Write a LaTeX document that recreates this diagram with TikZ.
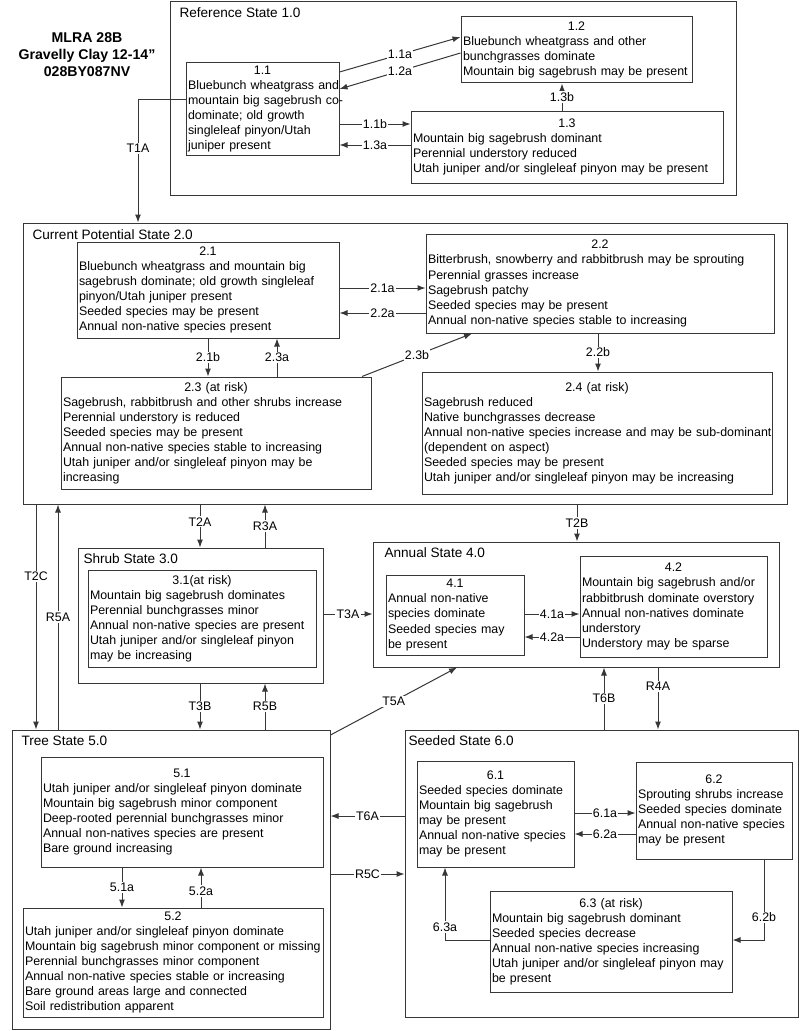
\documentclass[tikz,border=0pt]{standalone}
\usepackage{fontspec}
\setmainfont{Liberation Sans}
\usetikzlibrary{arrows.meta}
\definecolor{boxline}{RGB}{55,55,55}
\newcommand{\subnum}[1]{\rightskip=0pt plus 1fil minus 12pt\makebox[\linewidth]{#1}\\}
\tikzset{every picture/.style={line width=0.75pt}}
\tikzset{
  statebox/.style={draw=boxline, inner sep=0pt},
  subbox/.style={draw=boxline, align=left, inner xsep=1.5pt, inner ysep=0pt, font=\fontsize{9.3}{11.3}\selectfont},
  sttitle/.style={anchor=west, inner sep=0pt, font=\fontsize{10.2}{12}\selectfont},
  lab/.style={fill=white, inner sep=1pt, font=\fontsize{9.3}{11}\selectfont},
  arr/.style={draw=boxline, -{Latex[length=6pt,width=4.5pt]}},
}
\begin{document}
\begin{tikzpicture}[x=0.75pt,y=0.75pt,yscale=-1,xscale=1]
	\useasboundingbox (0,0) rectangle (800,1031);

	% Text Node
	\node[font=\fontsize{10.6}{12.75}\selectfont\bfseries, align=center] (hdr) at (87,55) {MLRA 28B\\Gravelly Clay 12-14\symbol{34}\\028BY087NV};

	%Shape: Rectangle -- state boxes
	\node[statebox, minimum width=424.5pt, minimum height=144.75pt] (r10) at (453,98.5) {};
	\node[statebox, minimum width=573pt, minimum height=210.75pt] (c20) at (405,363.5) {};
	\node[statebox, minimum width=183.75pt, minimum height=101.25pt] (sh30) at (200.5,615.5) {};
	\node[statebox, minimum width=304.5pt, minimum height=93.75pt] (an40) at (576,604.5) {};
	\node[statebox, minimum width=238.5pt, minimum height=224.25pt] (tr50) at (171,879.5) {};
	\node[statebox, minimum width=294.75pt, minimum height=215.25pt] (se60) at (601.5,873.5) {};

	% Text Node -- state titles
	\node[sttitle] (t10) at (179,13) {Reference State 1.0};
	\node[sttitle] (t20) at (32,235) {Current Potential State 2.0};
	\node[sttitle] (t30) at (83,559) {Shrub State 3.0};
	\node[sttitle] (t40) at (384,553) {Annual State 4.0};
	\node[sttitle] (t50) at (21,741) {Tree State 5.0};
	\node[sttitle] (t60) at (408,741) {Seeded State 6.0};

	%Shape: Rectangle -- community phases
	\node[subbox, minimum width=114.75pt, text width=111.75pt, minimum height=69pt] (s11) at (262.5,109) {\subnum{1.1}Bluebunch wheatgrass and\\\mbox{mountain big sagebrush co-}\\dominate; old growth\\singleleaf pinyon/Utah\\juniper present};
	\node[subbox, minimum width=173.25pt, text width=170.25pt, minimum height=49.5pt] (s12) at (576.5,50) {\subnum{1.2}Bluebunch wheatgrass and other\\bunchgrasses dominate\\Mountain big sagebrush may be present};
	\node[subbox, minimum width=234pt, text width=231pt, minimum height=54pt] (s13) at (567,147) {\subnum{1.3}Mountain big sagebrush dominant\\Perennial understory reduced\\Utah juniper and/or singleleaf pinyon may be present};

	\node[subbox, minimum width=196.5pt, text width=193.5pt, minimum height=72pt] (s21) at (208,290) {\subnum{2.1}Bluebunch wheatgrass and mountain big\\sagebrush dominate; old growth singleleaf\\pinyon/Utah juniper present\\Seeded species may be present\\Annual non-native species present};
	\node[subbox, minimum width=261pt, text width=258pt, minimum height=74.25pt] (s22) at (600,283.5) {\subnum{2.2}Bitterbrush, snowberry and rabbitbrush may be sprouting\\Perennial grasses increase\\Sagebrush patchy\\Seeded species may be present\\Annual non-native species stable to increasing};
	\node[subbox, minimum width=232.5pt, text width=229.5pt, minimum height=84pt] (s23) at (216,433) {\subnum{2.3 (at risk)}Sagebrush, rabbitbrush and other shrubs increase\\Perennial understory is reduced\\Seeded species may be present\\Annual non-native species stable to increasing\\Utah juniper and/or singleleaf pinyon may be\\increasing};
	\node[subbox, minimum width=262.5pt, text width=259.5pt, minimum height=91.5pt] (s24) at (597,433) {\subnum{2.4 (at risk)}Sagebrush reduced\\Native bunchgrasses decrease\\Annual non-native species increase and may be sub-dominant\\(dependent on aspect)\\Seeded species may be present\\Utah juniper and/or singleleaf pinyon may be increasing};

	\node[subbox, minimum width=171pt, text width=168pt, minimum height=72.75pt] (s31) at (202,618.5) {\subnum{3.1(at risk)}Mountain big sagebrush dominates\\Perennial bunchgrasses minor\\Annual non-native species are present\\Utah juniper and/or singleleaf pinyon\\may be increasing};

	\node[subbox, minimum width=103.5pt, text width=100.5pt, minimum height=60pt] (s41) at (455,615) {\subnum{4.1}Annual non-native\\species dominate\\Seeded species may\\be present};
	\node[subbox, minimum width=140.25pt, text width=137.25pt, minimum height=75.75pt] (s42) at (673.5,606.5) {\subnum{4.2}Mountain big sagebrush and/or\\rabbitbrush dominate overstory\\Annual non-natives dominate\\understory\\Understory may be sparse};

	\node[subbox, minimum width=211.5pt, text width=208.5pt, minimum height=82.5pt] (s51) at (182,812) {\subnum{5.1}Utah juniper and/or singleleaf pinyon dominate\\Mountain big sagebrush minor component\\Deep-rooted perennial bunchgrasses minor\\Annual non-natives species are present\\Bare ground increasing};
	\node[subbox, minimum width=225pt, text width=222pt, minimum height=81.75pt] (s52) at (173,962.5) {\subnum{5.2}Utah juniper and/or singleleaf pinyon dominate\\Mountain big sagebrush minor component or missing\\Perennial bunchgrasses minor component\\Annual non-native species stable or increasing\\Bare ground areas large and connected\\Soil redistribution apparent};

	\node[subbox, minimum width=117.75pt, text width=114.75pt, minimum height=79.5pt] (s61) at (495.5,814) {\subnum{6.1}Seeded species dominate\\Mountain big sagebrush\\may be present\\Annual non-native species\\may be present};
	\node[subbox, minimum width=117pt, text width=114pt, minimum height=72.75pt] (s62) at (714,810.5) {\subnum{6.2}Sprouting shrubs increase\\Seeded species dominate\\Annual non-native species\\may be present};
	\node[subbox, minimum width=181.5pt, text width=178.5pt, minimum height=75.75pt] (s63) at (611,941.5) {\subnum{6.3 (at risk)}Mountain big sagebrush dominant\\Seeded species decrease\\Annual non-native species increasing\\Utah juniper and/or singleleaf pinyon may\\be present};

	%Straight Lines -- state 1.0
	\draw[arr] (s11.east |- 0,72) -- node[lab] {1.1a} (s12.west |- 0,37);
	\draw[arr] (s12.west |- 0,53) -- node[lab] {1.2a} (s11.east |- 0,89);
	\draw[arr] (s11.east |- 0,124) -- node[lab] {1.1b} (s13.west |- 0,124);
	\draw[arr] (s13.west |- 0,145) -- node[lab] {1.3a} (s11.east |- 0,145);
	\draw[arr] (s13.north -| 562,0) -- node[lab] {1.3b} (s12.south -| 562,0);
	\draw[arr] (s11.west |- 0,99) -| node[lab, pos=0.7] {T1A} (138,0 |- c20.north);

	%Straight Lines -- state 2.0
	\draw[arr] (s21.east |- 0,288) -- node[lab] {2.1a} (s22.west |- 0,288);
	\draw[arr] (s22.west |- 0,313) -- node[lab] {2.2a} (s21.east |- 0,313);
	\draw[arr] (s21.south -| 208,0) -- node[lab] {2.1b} (s23.north -| 208,0);
	\draw[arr] (s23.north -| 277,0) -- node[lab] {2.3a} (s21.south -| 277,0);
	\draw[arr] (s23.north -| 362,0) -- node[lab] {2.3b} (s22.south -| 472,0);
	\draw[arr] (s22.south -| 598,0) -- node[lab] {2.2b} (s24.north -| 598,0);

	%Straight Lines -- transitions
	\draw[arr] (c20.south -| 577,0) -- node[lab] {T2B} (an40.north -| 577,0);
	\draw[arr] (c20.south -| 200,0) -- node[lab, pos=0.4] {T2A} (sh30.north -| 200,0);
	\draw[arr] (sh30.north -| 265,0) -- node[lab] {R3A} (c20.south -| 265,0);
	\draw[arr] (c20.south -| 36,0) -- node[lab, pos=0.32] {T2C} (tr50.north -| 36,0);
	\draw[arr] (tr50.north -| 58,0) -- node[lab] {R5A} (c20.south -| 58,0);
	\draw[arr] (sh30.east |- 0,614) -- node[lab] {T3A} (an40.west |- 0,614);
	\draw[arr] (sh30.south -| 200,0) -- node[lab] {T3B} (tr50.north -| 200,0);
	\draw[arr] (tr50.north -| 265,0) -- node[lab] {R5B} (sh30.south -| 265,0);
	\draw[arr] (tr50.east |- 0,735) -- node[lab] {T5A} (an40.south -| 457,0);
	\draw[arr] (se60.north -| 604,0) -- node[lab] {T6B} (an40.south -| 604,0);
	\draw[arr] (an40.south -| 658,0) -- node[lab, pos=0.3] {R4A} (se60.north -| 658,0);
	\draw[arr] (se60.west |- 0,816) -- node[lab] {T6A} (tr50.east |- 0,816);
	\draw[arr] (tr50.east |- 0,874) -- node[lab] {R5C} (se60.west |- 0,874);

	%Straight Lines -- state 4.0
	\draw[arr] (s41.east |- 0,614) -- node[lab] {4.1a} (s42.west |- 0,614);
	\draw[arr] (s42.west |- 0,637) -- node[lab] {4.2a} (s41.east |- 0,637);

	%Straight Lines -- state 5.0
	\draw[arr] (s51.south -| 122,0) -- node[lab] {5.1a} (s52.north -| 122,0);
	\draw[arr] (s52.north -| 201,0) -- node[lab, pos=0.41] {5.2a} (s51.south -| 201,0);

	%Straight Lines -- state 6.0
	\draw[arr] (s61.east |- 0,813) -- node[lab] {6.1a} (s62.west |- 0,813);
	\draw[arr] (s62.west |- 0,834) -- node[lab] {6.2a} (s61.east |- 0,834);
	\draw[arr] (s62.south -| 764,0) |- node[lab, pos=0.36] {6.2b} (s63.east |- 0,940);
	\draw[arr] (s63.west |- 0,940) -| node[lab, pos=0.59] {6.3a} (445,0 |- s61.south);

\end{tikzpicture}
\end{document}
